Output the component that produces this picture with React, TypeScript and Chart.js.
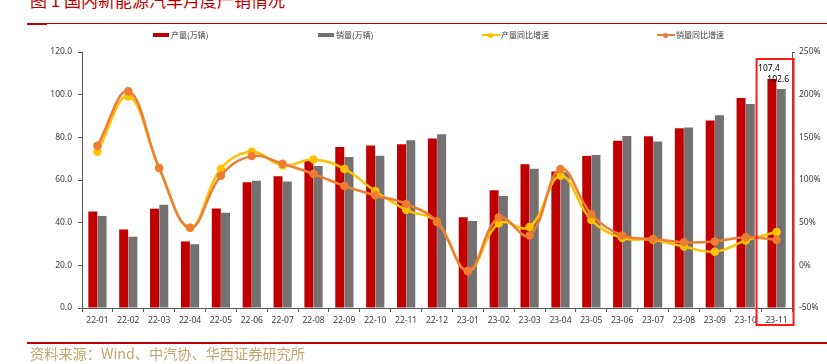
import React, { useEffect, useRef } from "react";
import { Chart, registerables } from "chart.js";

Chart.register(...registerables);

const categories = ["22-01","22-02","22-03","22-04","22-05","22-06","22-07","22-08","22-09","22-10","22-11","22-12","23-01","23-02","23-03","23-04","23-05","23-06","23-07","23-08","23-09","23-10","23-11"];
const production = [45.2, 36.8, 46.5, 31.2, 46.6, 59.0, 61.7, 69.1, 75.5, 76.2, 76.8, 79.4, 42.5, 55.2, 67.4, 64.0, 71.3, 78.4, 80.5, 84.3, 87.9, 98.4, 107.4];
const sales = [43.1, 33.4, 48.4, 29.9, 44.7, 59.6, 59.3, 66.6, 70.8, 71.4, 78.6, 81.4, 40.8, 52.5, 65.3, 63.6, 71.7, 80.6, 78.0, 84.6, 90.4, 95.6, 102.6];
const productionYoy = [133, 198, 114, 44, 113, 133, 117, 124, 113, 87, 65, 51, -6.5, 49, 45, 105, 53, 32, 30, 22, 16, 29, 39];
const salesYoy = [140, 204, 114, 44, 105, 128, 119, 107, 93, 82, 72, 51, -6.5, 56, 35, 113, 60, 35, 31, 27, 28, 33, 30];
const leftTicks = [0, 20, 40, 60, 80, 100, 120];
const rightTicks = [-50, 0, 50, 100, 150, 200, 250];

const seriesNames = ["产量(万辆)", "销量(万辆)", "产量同比增速", "销量同比增速"];
const colors = { red: "#C00000", gray: "#767171", yellow: "#FFC000", orange: "#ED7D31" };
const highlightIndex = categories.length - 1;

const tickFont = { family: "'Noto Sans', 'Noto Sans CJK SC', sans-serif", size: 8.5 };
const tickColor = "#404040";
const axisColor = "#595959";

const overlayPlugin = {
  id: "overlay",
  afterDatasetsDraw(chart: any) {
    const ctx = chart.ctx;
    const xs = chart.scales.x;
    const area = chart.chartArea;
    ctx.save();
    ctx.font = "8.5px 'Noto Sans', sans-serif";
    ctx.fillStyle = "#000";
    ctx.textAlign = "center";
    ctx.textBaseline = "middle";
    [0, 1].forEach((di) => {
      const meta = chart.getDatasetMeta(di);
      const el = meta.data[highlightIndex];
      const v = chart.data.datasets[di].data[highlightIndex];
      ctx.fillText(Number(v).toFixed(1), el.x - 3, el.y - 10);
    });
    // small top tick on the right axis
    ctx.strokeStyle = axisColor;
    ctx.lineWidth = 1;
    ctx.beginPath();
    ctx.moveTo(area.right, area.top + 0.5);
    ctx.lineTo(area.right + 3, area.top + 0.5);
    ctx.stroke();
    // highlight rectangle
    const cx = xs.getPixelForValue(highlightIndex);
    ctx.strokeStyle = "#FF1A1A";
    ctx.lineWidth = 2;
    ctx.beginPath();
    ctx.rect(cx - 20, area.top + 7, 37, area.bottom - area.top + 10);
    ctx.stroke();
    ctx.restore();
  },
};

function App() {
  const ref = useRef<HTMLCanvasElement | null>(null);

  useEffect(() => {
    if (!ref.current) return;
    const chart = new Chart(ref.current, {
      type: "bar",
      data: {
        labels: categories,
        datasets: [
          { type: "bar", label: seriesNames[0], data: production, backgroundColor: colors.red, yAxisID: "y", order: 2, categoryPercentage: 0.6, barPercentage: 0.97 } as any,
          { type: "bar", label: seriesNames[1], data: sales, backgroundColor: colors.gray, yAxisID: "y", order: 2, categoryPercentage: 0.6, barPercentage: 0.97 } as any,
          { type: "line", label: seriesNames[2], data: productionYoy, borderColor: colors.yellow, backgroundColor: colors.yellow, pointBackgroundColor: colors.yellow, pointBorderColor: colors.yellow, borderWidth: 2.5, pointRadius: 3, tension: 0.4, yAxisID: "y1", order: 1 } as any,
          { type: "line", label: seriesNames[3], data: salesYoy, borderColor: colors.orange, backgroundColor: colors.orange, pointBackgroundColor: colors.orange, pointBorderColor: colors.orange, borderWidth: 2.5, pointRadius: 3, tension: 0.4, yAxisID: "y1", order: 0 } as any,
        ],
      },
      options: {
        responsive: false,
        animation: false,
        layout: { padding: { top: 52, left: 0, right: 0, bottom: 0 } },
        plugins: { legend: { display: false }, tooltip: { enabled: false } },
        scales: {
          x: {
            grid: { display: true, drawOnChartArea: false, offset: true, tickLength: 4, color: axisColor },
            border: { display: true, color: axisColor },
            ticks: { font: tickFont, color: tickColor, padding: 3, maxRotation: 0, autoSkip: false },
            afterFit: (s: any) => { s.height = 56; },
          },
          y: {
            position: "left",
            min: leftTicks[0],
            max: leftTicks[leftTicks.length - 1],
            afterBuildTicks: (s: any) => { s.ticks = leftTicks.map((v) => ({ value: v })); },
            grid: { display: true, drawOnChartArea: false, tickLength: 4, color: axisColor },
            border: { display: true, color: axisColor },
            ticks: { font: tickFont, color: tickColor, padding: 6, callback: (v: any) => Number(v).toFixed(1) },
            afterFit: (s: any) => { s.width = 82; },
          },
          y1: {
            position: "right",
            min: rightTicks[0],
            max: rightTicks[rightTicks.length - 1],
            afterBuildTicks: (s: any) => { s.ticks = rightTicks.map((v) => ({ value: v })); },
            grid: { display: true, drawOnChartArea: false, drawTicks: false, color: axisColor },
            border: { display: true, color: axisColor },
            ticks: { font: tickFont, color: tickColor, padding: 7, callback: (v: any) => `${v}%` },
            afterFit: (s: any) => { s.width = 35; },
          },
        },
      } as any,
      plugins: [overlayPlugin],
    });
    return () => chart.destroy();
  }, []);

  const legendText: React.CSSProperties = {
    position: "absolute",
    top: 29,
    fontSize: 8,
    lineHeight: "12px",
    color: "#404040",
    fontFamily: "'Noto Sans CJK SC', sans-serif",
    whiteSpace: "nowrap",
  };
  const swatch = (left: number, color: string): React.CSSProperties => ({
    position: "absolute", left, top: 33, width: 15.5, height: 4, background: color,
  });
  const lineSw = (left: number, color: string): React.CSSProperties => ({
    position: "absolute", left, top: 34, width: 17.5, height: 2, background: color,
  });
  const dot = (left: number, color: string): React.CSSProperties => ({
    position: "absolute", left: left - 2.5, top: 32.5, width: 5, height: 5, borderRadius: "50%", background: color,
  });

  return (
    <div style={{ position: "fixed", left: 0, top: 0, width: 827, height: 364, background: "#fff", overflow: "hidden" }}>
      <div style={{ position: "absolute", left: 30, top: -11, fontSize: 17, lineHeight: "21px", color: "#C00000", fontFamily: "'Noto Sans CJK SC', serif", whiteSpace: "nowrap" }}>
        图 1 国内新能源汽车月度产销情况
      </div>
      <div style={{ position: "absolute", left: 27, right: 0, top: 22.5, height: 1.5, background: "#C00000" }} />
      <div style={{ position: "absolute", left: 27, width: 20, top: 22.5, height: 2.5, background: "#C00000" }} />

      <canvas ref={ref} width={827} height={364} style={{ position: "absolute", left: 0, top: 0 }} />

      <div style={swatch(153, colors.red)} />
      <div style={{ ...legendText, left: 171 }}>{seriesNames[0]}</div>
      <div style={swatch(318, colors.gray)} />
      <div style={{ ...legendText, left: 336 }}>{seriesNames[1]}</div>
      <div style={lineSw(482, colors.yellow)} />
      <div style={dot(490.5, colors.yellow)} />
      <div style={{ ...legendText, left: 501 }}>{seriesNames[2]}</div>
      <div style={lineSw(657, colors.orange)} />
      <div style={dot(665.5, colors.orange)} />
      <div style={{ ...legendText, left: 676 }}>{seriesNames[3]}</div>

      <div style={{ position: "absolute", left: 27, right: 0, top: 341.5, height: 2, background: "#C00000" }} />
      <div style={{ position: "absolute", left: 30, top: 343.5, fontSize: 14.2, lineHeight: "18px", color: "#C4A46A", fontFamily: "'Noto Sans CJK SC', serif", whiteSpace: "nowrap" }}>
        资料来源：Wind、中汽协、华西证券研究所
      </div>
    </div>
  );
}

export default App;
